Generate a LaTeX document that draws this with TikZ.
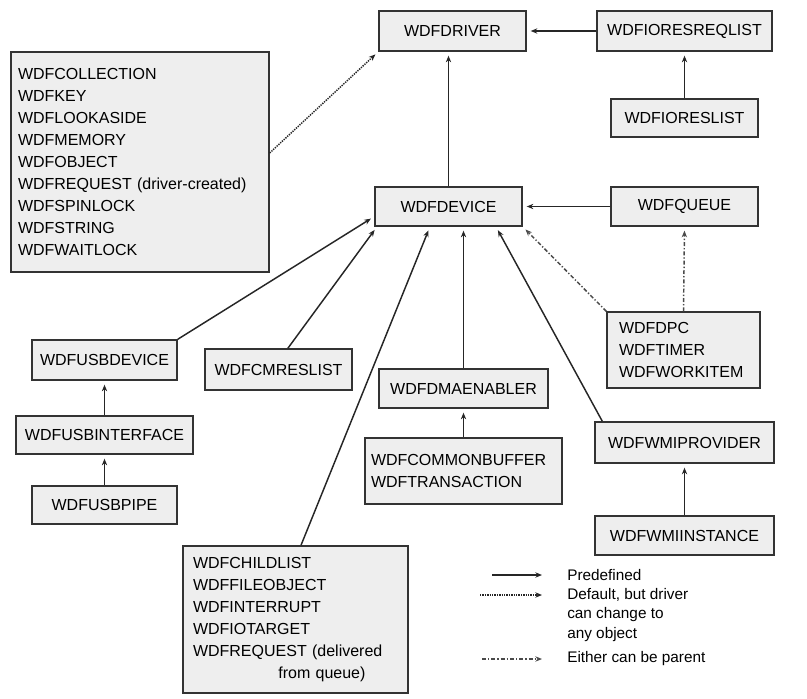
\documentclass[tikz,border=0pt]{standalone}
\usepackage{fontspec}
\setsansfont{Liberation Sans}
\usepackage{xcolor}
\usepackage{tikz}
\usetikzlibrary{arrows.meta,positioning}
\definecolor{boxbg}{HTML}{EEEEEE}
\definecolor{boxln}{HTML}{333333}
\definecolor{wire}{HTML}{262626}
\definecolor{wirelt}{HTML}{4A4A4A}
\tikzset{
  every node/.style={font=\sffamily},
  obj/.style={draw=boxln,fill=boxbg,line width=1pt,inner sep=0pt,
              font=\sffamily\fontsize{12}{16.5}\selectfont},
  grp/.style={obj,align=left},
  ar/.style={-{Stealth[length=5pt,width=4pt]},draw=wire,line width=1.1pt,shorten >=3pt},
  dflt/.style={ar,dash pattern=on 1pt off 0.8pt},
  either/.style={ar,draw=wirelt,dash pattern=on 3pt off 1.5pt on 1pt off 1.5pt},
  lab/.style={font=\sffamily\fontsize{11.5}{14.6}\selectfont,inner sep=0pt,
              anchor=west,align=left},
}

\begin{document}
\begin{tikzpicture}[x=0.75pt,y=-0.75pt]
\useasboundingbox (0,0) rectangle (807,699);

\node[obj,minimum width=110.25pt,minimum height=30pt] (drv) at (452.5,31) {WDFDRIVER};
\node[obj,minimum width=131.25pt,minimum height=30pt] (reqlist) at (684.5,31) {WDFIORESREQLIST};
\node[obj,minimum width=110.25pt,minimum height=28.5pt] (reslist) at (684.5,118) {WDFIORESLIST};
\node[obj,minimum width=110.25pt,minimum height=29.25pt] (dev) at (448.5,206.5) {WDFDEVICE};
\node[obj,minimum width=110.25pt,minimum height=29.25pt] (queue) at (684.5,206.5) {WDFQUEUE};

\node[grp,text width=183pt,inner xsep=5.25pt,minimum height=165pt] (misc) at (140,162)
  {WDFCOLLECTION\\WDFKEY\\WDFLOOKASIDE\\WDFMEMORY\\WDFOBJECT\\WDFREQUEST (driver-created)\\WDFSPINLOCK\\WDFSTRING\\WDFWAITLOCK};
\node[grp,text width=96.75pt,inner xsep=9pt,minimum height=57pt] (dpc) at (683.5,350)
  {WDFDPC\\WDFTIMER\\WDFWORKITEM};

\node[obj,minimum width=108.75pt,minimum height=30pt] (usbdev) at (104.5,360) {WDFUSBDEVICE};
\node[obj,minimum width=132.75pt,minimum height=28.5pt] (usbif) at (104.5,435) {WDFUSBINTERFACE};
\node[obj,minimum width=108.75pt,minimum height=28.5pt] (usbpipe) at (104.5,505) {WDFUSBPIPE};
\node[obj,minimum width=110.25pt,minimum height=30.75pt] (cmres) at (278.5,369.5) {WDFCMRESLIST};
\node[obj,minimum width=126.75pt,minimum height=29.25pt] (dma) at (463.5,388.5) {WDFDMAENABLER};
\node[grp,text width=138.75pt,inner xsep=4.5pt,minimum height=49.5pt] (common) at (463.5,471)
  {WDFCOMMONBUFFER\\WDFTRANSACTION};
\node[obj,minimum width=134.25pt,minimum height=30.75pt] (wmiprov) at (684.5,442.5) {WDFWMIPROVIDER};
\node[obj,minimum width=134.25pt,minimum height=29.25pt] (wmiinst) at (684.5,535.5) {WDFWMIINSTANCE};
\node[grp,text width=153.75pt,inner xsep=7.5pt,minimum height=110.25pt] (child) at (295.5,619.5)
  {WDFCHILDLIST\\WDFFILEOBJECT\\WDFINTERRUPT\\WDFIOTARGET\\WDFREQUEST (delivered\\\hspace*{64pt}from queue)};

\draw[ar] (dev.north) -- (dev.north |- drv.south);
\draw[ar] (reqlist.west) -- (drv.east);
\draw[ar] (reslist.north) -- (reqlist.south);
\draw[ar] (queue.west) -- (dev.east);
\draw[either] (dpc.north) -- (queue.south);
\draw[either] (dpc.north west) -- (dev.south east);
\draw[ar] ([xshift=6pt]wmiprov.north west) -- ([xshift=35.6pt]dev.south);
\draw[ar] (dma.north) -- (dma.north |- dev.south);
\draw[ar] ([xshift=4.1pt]child.north) -- ([xshift=-13.9pt]dev.south);
\draw[ar] ([xshift=7pt]cmres.north) -- ([xshift=2pt]dev.south west);
\draw[ar] (usbdev.north east) -- ([yshift=-7.5pt]dev.west);
\draw[ar] (usbif.north) -- (usbdev.south);
\draw[ar] (usbpipe.north) -- (usbif.south);
\draw[ar] (common.north) -- (dma.south);
\draw[ar] (wmiinst.north) -- (wmiprov.south);
\draw[dflt] ([yshift=6.75pt]misc.east) -- (drv.south west);

\coordinate (k1a) at (492,575);
\coordinate (k1b) at (542,575);
\draw[ar,shorten >=0pt] (k1a) -- (k1b);
\node[lab] (k1) at (567,575) {Predefined};
\coordinate (k2a) at (480,595);
\coordinate (k2b) at (542,595);
\draw[dflt,shorten >=0pt] (k2a) -- (k2b);
\node[lab] (k2) at (567,615) {Default, but driver\\can change to\\any object};
\coordinate (k3a) at (482,659);
\coordinate (k3b) at (542,659);
\draw[either,shorten >=0pt] (k3a) -- (k3b);
\node[lab] (k3) at (567,659) {Either can be parent};
\end{tikzpicture}
\end{document}
